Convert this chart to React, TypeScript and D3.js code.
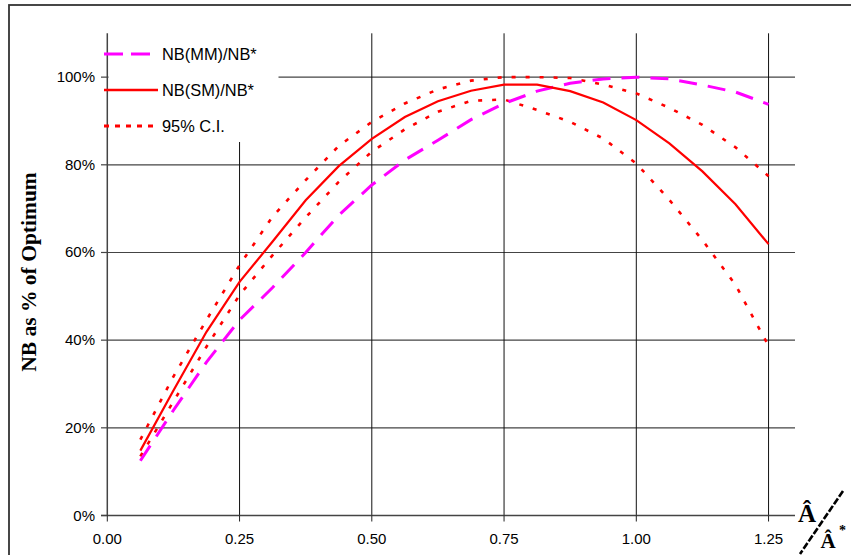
import React from "react";
import * as d3 from "d3";

const xValues = [0.0625, 0.125, 0.1875, 0.25, 0.3125, 0.375, 0.4375, 0.5, 0.5625, 0.625, 0.6875, 0.75, 0.8125, 0.875, 0.9375, 1.0, 1.0625, 1.125, 1.1875, 1.25];
const nbMM = [12.5, 24.0, 35.0, 44.6, 52.0, 60.0, 68.5, 75.4, 81.1, 85.6, 90.3, 94.0, 96.8, 98.6, 99.6, 100, 99.6, 98.2, 96.6, 93.8];
const nbSM = [14.8, 28.5, 41.9, 53.3, 62.5, 71.9, 79.7, 85.9, 90.9, 94.5, 96.9, 98.3, 98.3, 96.8, 94.2, 90.2, 84.9, 78.5, 71.0, 61.9];
const ciUpper = [17.3, 31.7, 44.6, 57.1, 68.2, 76.5, 84.3, 89.8, 94.0, 97.2, 99.2, 100, 100, 99.8, 98.3, 96.3, 93.0, 89.1, 84.0, 77.4];
const ciLower = [13.5, 26.0, 38.5, 50.3, 59.4, 68.0, 76.1, 83.0, 88.1, 92.1, 94.6, 94.9, 92.5, 89.8, 86.0, 80.3, 72.0, 62.8, 52.6, 38.7];
const xTicks = [0, 0.25, 0.5, 0.75, 1.0, 1.25];
const yTicks = [0, 20, 40, 60, 80, 100];
const legendLabels = ["NB(MM)/NB*", "NB(SM)/NB*", "95% C.I."];

const W = 851;
const H = 555;

export default function App() {
  const x = d3.scaleLinear().domain([0, 1.3]).range([107.3, 795]);
  const y = d3.scaleLinear().domain([0, 110]).range([515.5, 33.3]);
  const mk = (vals: number[]) =>
    d3.line<number>().x((_, i) => x(xValues[i])).y((v) => y(v))(vals) as string;

  const red = "#FF0000";
  const magenta = "#FF00FF";
  const sans = "'Liberation Sans', Arial, sans-serif";
  const serif = "'Liberation Serif', 'Times New Roman', serif";

  const legendY = [54, 90, 126];

  return (
    <svg width={W} height={H} style={{ position: "absolute", left: 0, top: 0, display: "block" }}>
      <rect x={0} y={0} width={W} height={H} fill="#fff" />
      {/* outer frame */}
      <rect x={9} y={5} width={900} height={700} fill="none" stroke="#333" strokeWidth={1.8} />
      {/* horizontal gridlines */}
      {yTicks.map((t) => (
        <line key={"h" + t} x1={x(0)} x2={x(1.3)} y1={y(t)} y2={y(t)} stroke="#444" strokeWidth={1.2} />
      ))}
      {/* vertical gridlines */}
      {xTicks.slice(1).map((t) => (
        <line key={"v" + t} x1={x(t)} x2={x(t)} y1={y(110)} y2={y(0)} stroke="#111" strokeWidth={1} />
      ))}
      {/* legend background */}
      <rect x={108.5} y={33} width={170} height={109} fill="#fff" />
      {/* axes */}
      <line x1={x(0)} x2={x(0)} y1={y(110)} y2={y(0)} stroke="#444" strokeWidth={1.5} />
      <line x1={101} x2={x(1.3)} y1={y(0)} y2={y(0)} stroke="#444" strokeWidth={1.5} />
      {yTicks.map((t) => (
        <line key={"yt" + t} x1={101} x2={x(0)} y1={y(t)} y2={y(t)} stroke="#444" strokeWidth={1.2} />
      ))}
      {xTicks.map((t) => (
        <line key={"xt" + t} x1={x(t)} x2={x(t)} y1={y(0)} y2={y(0) + 6} stroke="#222" strokeWidth={1} />
      ))}
      {/* tick labels */}
      {yTicks.map((t) => (
        <text key={"yl" + t} x={95} y={y(t) + 5} textAnchor="end" fontFamily={sans} fontSize={15} fill="#000">
          {t + "%"}
        </text>
      ))}
      {xTicks.map((t) => (
        <text key={"xl" + t} x={x(t)} y={544} textAnchor="middle" fontFamily={sans} fontSize={15} fill="#000">
          {t.toFixed(2)}
        </text>
      ))}
      {/* y title */}
      <text
        transform="translate(36,272) rotate(-90)"
        textAnchor="middle"
        fontFamily={serif}
        fontWeight="bold"
        fontSize={21.5}
        fill="#000"
      >
        NB as % of Optimum
      </text>
      {/* data lines */}
      <path d={mk(ciUpper)} fill="none" stroke={red} strokeWidth={2.6} strokeDasharray="4 10" />
      <path d={mk(ciLower)} fill="none" stroke={red} strokeWidth={2.6} strokeDasharray="4 10" />
      <path d={mk(nbMM)} fill="none" stroke={magenta} strokeWidth={3} strokeDasharray="18 11" />
      <path d={mk(nbSM)} fill="none" stroke={red} strokeWidth={2.2} />
      {/* legend */}
      <line x1={104} x2={157} y1={legendY[0]} y2={legendY[0]} stroke={magenta} strokeWidth={3} strokeDasharray="19 8" />
      <line x1={104} x2={158} y1={legendY[1]} y2={legendY[1]} stroke={red} strokeWidth={2.4} />
      <line x1={104} x2={158} y1={legendY[2]} y2={legendY[2]} stroke={red} strokeWidth={2.8} strokeDasharray="5 6" />
      {legendLabels.map((l, i) => (
        <text key={l} x={162} y={legendY[i] + 6} fontFamily={sans} fontSize={16.4} fill="#000">
          {l}
        </text>
      ))}
      {/* x-axis symbol A-hat / A-hat* */}
      <line x1={843} y1={491} x2={800} y2={554} stroke="#000" strokeWidth={2.6} strokeDasharray="7 2" />
      <text x={807} y={522} textAnchor="middle" fontFamily={serif} fontWeight="bold" fontSize={25} fill="#000">
        Â
      </text>
      <text x={828} y={548} textAnchor="middle" fontFamily={serif} fontWeight="bold" fontSize={21} fill="#000">
        Â
      </text>
      <text x={839} y={535} textAnchor="start" fontFamily={serif} fontWeight="bold" fontSize={14} fill="#000">
        *
      </text>
    </svg>
  );
}
